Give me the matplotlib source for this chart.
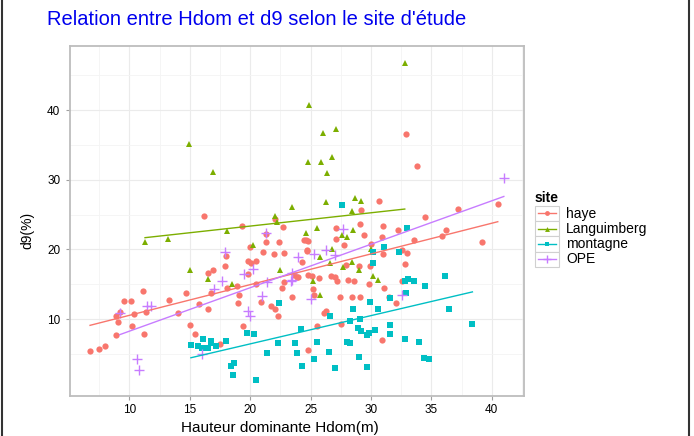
import numpy as np
import matplotlib
matplotlib.use('Agg')
import matplotlib.pyplot as plt
from matplotlib.lines import Line2D
from matplotlib.patches import Rectangle

plt.rcParams['font.family'] = ['Liberation Sans', 'DejaVu Sans']

# haye (circles)
haye_x = [6.75, 7.5, 8.0, 8.9, 9.1, 8.9, 9.2, 10.2, 10.4, 9.6, 10.1, 11.1, 11.4, 11.2, 13.3, 14.0,
          14.7, 15.0, 15.4, 15.8, 16.2, 16.5, 16.5, 16.8, 16.9, 17.5, 17.9, 18.0, 18.1, 18.9, 19.0,
          19.1, 19.3, 19.4, 19.8, 19.8, 20.0, 20.1, 20.5, 20.5, 20.9, 21.1, 21.3, 21.3, 21.7, 22.0,
          22.1, 22.1, 22.3, 22.4, 22.6, 22.7, 22.8, 22.8, 23.5, 23.6, 23.9, 24.0, 24.3, 24.5, 24.6,
          24.7, 24.7, 24.8, 24.8, 24.8, 25.1, 25.2, 25.3, 25.5, 25.7, 26.1, 26.3, 26.7, 27.0, 27.1,
          27.1, 27.2, 27.4, 27.5, 27.8, 27.9, 28.1, 28.4, 28.6, 29.0, 29.1, 29.1, 29.2, 29.4, 29.8,
          29.9, 30.0, 30.7, 30.9, 30.9, 31.0, 31.0, 31.1, 31.5, 32.1, 32.2, 32.6, 32.6, 32.8, 32.9,
          33.0, 33.6, 33.8, 34.5, 35.9, 36.2, 37.2, 39.2, 40.5]
haye_y = [5.4, 5.7, 6.2, 7.7, 9.6, 10.5, 11.0, 9.0, 10.7, 12.6, 12.6, 14.0, 11.0, 7.8, 12.8, 10.9,
          13.8, 9.1, 7.9, 12.2, 24.8, 16.6, 11.4, 13.8, 17.1, 6.4, 17.6, 19.0, 14.5, 14.7, 12.3,
          13.5, 23.3, 8.95, 18.4, 16.4, 20.4, 18.0, 18.3, 15.1, 12.4, 19.6, 22.2, 21.1, 11.8, 19.4,
          24.3, 11.4, 10.5, 21.1, 14.5, 23.2, 19.5, 15.3, 13.2, 16.3, 16.1, 16.1, 18.2, 21.3, 21.3,
          19.8, 19.9, 21.2, 16.3, 5.5, 16.2, 14.3, 13.4, 9.0, 15.9, 10.9, 11.1, 16.2, 16.1, 23.0,
          21.5, 15.5, 13.2, 9.3, 20.7, 17.8, 15.6, 13.1, 15.4, 17.6, 23.6, 13.2, 25.6, 22.1, 15.0,
          17.6, 20.8, 26.9, 21.8, 7.0, 23.3, 19.3, 14.4, 13.1, 12.3, 22.8, 19.9, 15.5, 17.9, 36.5,
          19.5, 21.3, 32.0, 24.6, 21.9, 22.8, 25.8, 21.0, 26.5]

# Languimberg (triangles)
lang_x = [11.3, 13.2, 14.9, 15.0, 16.5, 16.9, 18.1, 18.5, 20.2, 22.1, 22.2, 22.5, 23.5, 24.6, 24.8,
          24.9, 25.2, 25.5, 25.8, 25.8, 25.9, 26.0, 26.3, 26.4, 26.6, 26.8, 26.8, 27.1, 27.6, 27.7,
          28.0, 28.4, 28.4, 28.5, 28.7, 29.0, 29.2, 30.0, 30.2, 30.6, 32.8]
lang_y = [21.0, 21.5, 35.2, 17.0, 15.8, 31.1, 22.7, 15.1, 20.6, 24.8, 24.0, 17.0, 26.1, 22.4, 32.5,
          40.8, 15.5, 23.0, 18.9, 13.4, 32.6, 36.7, 26.8, 31.0, 18.1, 33.2, 20.0, 37.3, 22.0, 17.5,
          21.8, 25.5, 18.2, 22.8, 27.4, 17.1, 27.0, 20.0, 16.2, 15.6, 46.8]

# montagne (squares)
mont_x = [15.1, 15.7, 16.0, 16.1, 16.5, 16.8, 16.8, 17.2, 18.0, 18.4, 18.6, 18.7, 19.7, 20.3, 20.5,
          21.4, 22.3, 22.4, 23.7, 23.9, 24.2, 24.3, 25.3, 25.5, 26.5, 26.6, 27.0, 27.6, 28.0, 28.3,
          28.3, 28.5, 28.9, 29.0, 29.1, 29.2, 29.7, 29.7, 29.8, 29.9, 30.2, 30.2, 30.3, 30.6, 31.1,
          31.6, 31.6, 31.6, 32.3, 32.8, 32.8, 32.9, 33.0, 33.1, 33.6, 34.0, 34.4, 34.5, 34.8, 36.1,
          36.5, 38.4]
mont_y = [6.3, 6.1, 5.8, 7.1, 5.9, 6.8, 6.5, 6.2, 6.8, 3.2, 2.0, 3.7, 8.0, 7.8, 1.2,
          5.1, 6.6, 12.3, 6.6, 5.1, 8.6, 3.2, 4.3, 6.7, 5.2, 10.4, 2.9, 26.4, 6.7, 6.5,
          9.7, 11.4, 8.75, 4.6, 10.0, 8.3, 7.7, 3.1, 8.0, 12.5, 19.6, 18.0, 8.4, 11.5, 20.3,
          13.0, 9.1, 7.9, 19.6, 15.4, 7.2, 13.7, 23.1, 15.8, 15.4, 6.7, 4.4, 14.7, 4.3, 16.2,
          11.4, 9.3]

# OPE (plus)
ope_x = [9.2, 10.6, 10.8, 11.5, 11.8, 16.0, 17.0, 17.7, 17.9, 19.5, 19.8, 20.0, 20.2, 21.0, 21.3,
         21.4, 23.4, 23.5, 23.5, 24.0, 25.0, 25.3, 26.3, 27.0, 27.7, 32.6, 41.0]
ope_y = [10.9, 4.3, 2.7, 11.9, 11.8, 5.0, 14.3, 15.5, 19.6, 16.4, 11.2, 10.4, 17.2, 13.3, 22.4,
         15.3, 15.5, 15.6, 16.6, 18.9, 12.9, 19.4, 19.9, 19.2, 22.9, 13.5, 30.3]

sites = ['haye', 'Languimberg', 'montagne', 'OPE']
colors = ['#F8766D', '#7CAE00', '#00BFC4', '#C77CFF']
markers = ['o', '^', 's', '+']
xs = [haye_x, lang_x, mont_x, ope_x]
ys = [haye_y, lang_y, mont_y, ope_y]
msizes = [4.5, 5.0, 4.3, 7.0]

fig = plt.figure(figsize=(6.94, 4.36), dpi=100)
ax = fig.add_axes([70/694, 40/436, 454/694, 350/436])

for x, y, c, m, ms in zip(xs, ys, colors, markers, msizes):
    if m == '+':
        ax.plot(x, y, ls='none', marker=m, ms=ms, mew=1.0, color=c, zorder=3)
    else:
        ax.plot(x, y, ls='none', marker=m, ms=ms, mew=0, color=c, zorder=3)

# droites de regression (lm) par site
for x, y, c in zip(xs, ys, colors):
    a, b = np.polyfit(x, y, 1)
    xl = np.array([min(x), max(x)])
    ax.plot(xl, a * xl + b, color=c, lw=1.0, zorder=4)

ax.set_xlim(5.09, 42.67)
ax.set_ylim(-1.05, 49.2)
ax.set_xticks([10, 15, 20, 25, 30, 35, 40])
ax.set_xticks([7.5, 12.5, 17.5, 22.5, 27.5, 32.5, 37.5, 42.5], minor=True)
ax.set_yticks([10, 20, 30, 40])
ax.set_yticks([5, 15, 25, 35, 45], minor=True)
ax.grid(True, which='major', color='#ebebeb', lw=0.8, zorder=0)
ax.grid(True, which='minor', color='#f4f4f4', lw=0.6, zorder=0)
ax.set_axisbelow(True)
for s in ax.spines.values():
    s.set_color('#bdbdbd')
    s.set_linewidth(1.3)
ax.tick_params(which='major', length=3, width=0.8, color='#a0a0a0', labelsize=8.5, pad=2.5)
ax.tick_params(axis='y', pad=4)
ax.tick_params(which='minor', length=0)

fig.text(47/694, 1 - 25/436, "Relation entre Hdom et d9 selon le site d'étude",
         color='#0000ee', fontsize=14.5, ha='left', va='baseline')
fig.text(280/694, 1 - 432/436, 'Hauteur dominante Hdom(m)', fontsize=11,
         ha='center', va='baseline')
fig.text(27/694, 1 - 230/436, 'd9(%)', fontsize=10, rotation=90, ha='center', va='center')

# legende
fig.text(535/694, 1 - 202/436, 'site', fontsize=10, fontweight='bold', ha='left', va='baseline')
row_h = 15.3
for i, (lab, c, m) in enumerate(zip(sites, colors, markers)):
    yc = 213.5 + i * row_h
    fig.add_artist(Rectangle((535/694, 1 - (yc + row_h/2)/436), 24/694, row_h/436,
                             transform=fig.transFigure, fc='white', ec='#d0d0d0', lw=0.8))
    fig.add_artist(Line2D([538/694, 556/694], [1 - yc/436, 1 - yc/436], color=c, lw=1.0,
                          transform=fig.transFigure))
    fig.add_artist(Line2D([547/694], [1 - yc/436], marker=m, ms=3.5 if m != '+' else 6,
                          mew=0 if m != '+' else 1.0, color=c, transform=fig.transFigure))
    fig.text(566/694, 1 - yc/436, lab, fontsize=10, ha='left', va='center')

# bord noir de l'image
fig.add_artist(Line2D([1.5/694, 1.5/694], [0, 1], color='#333333', lw=1.5, transform=fig.transFigure))
fig.add_artist(Line2D([689/694, 689/694], [0, 1], color='#333333', lw=1.5, transform=fig.transFigure))

fig.savefig('out.png', dpi=100)
